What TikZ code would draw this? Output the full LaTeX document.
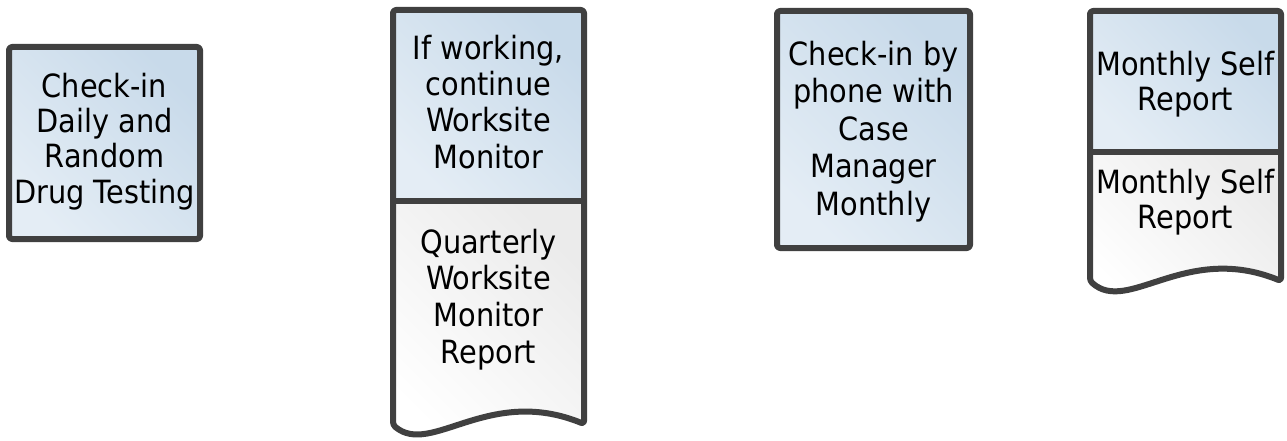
\documentclass[tikz,border=0pt]{standalone}
\usepackage{fontspec}
\setmainfont{DejaVu Sans}[FakeStretch=0.9]
\definecolor{edge}{HTML}{404040}
\definecolor{bluedark}{HTML}{C8DAEA}
\definecolor{bluelight}{HTML}{E4EDF5}
\definecolor{graydark}{HTML}{EBEBEB}
\tikzset{
  outline/.style={draw=edge, line width=6pt, line join=round, rounded corners=3pt},
  bluefill/.style={top color=bluedark, bottom color=bluelight, shading angle=-45},
  grayfill/.style={top color=graydark, bottom color=white, shading angle=-45},
  lbl/.style={anchor=north, inner sep=0pt, align=center, text=black},
}
\newcommand{\fst}{\rule{0pt}{25pt}}
\begin{document}
\begin{tikzpicture}[x=1pt,y=-1pt]
\useasboundingbox (0,0) rectangle (1287,441);
% Box 1
\path[bluefill] (9,47) rectangle (200,239);
\draw[outline] (9,47) rectangle (200,239);
\node[lbl, font={\fontsize{32}{35.3}\selectfont}] (t1) at (104.5,72) {\fst Check-in\\Daily and\\Random\\Drug Testing};
% Box 2
\path[bluefill] (393,10) rectangle (584,201);
\path[grayfill] (393,201) -- (584,201) -- (584,424) .. controls (488.5,385) and (431,457) .. (393,425) -- cycle;
\draw[outline] (393,10) -- (584,10) -- (584,424) .. controls (488.5,385) and (431,457) .. (393,425) -- cycle;
\draw[draw=edge, line width=6pt] (393,201) -- (584,201);
\node[lbl, font={\fontsize{32}{36.3}\selectfont}] (t2a) at (488.5,34) {\fst If working,\\continue\\Worksite\\Monitor};
\node[lbl, font={\fontsize{32}{36.7}\selectfont}] (t2b) at (488.5,228) {\fst Quarterly\\Worksite\\Monitor\\Report};
% Box 3
\path[bluefill] (777,11) rectangle (970,248);
\draw[outline] (777,11) rectangle (970,248);
\node[lbl, font={\fontsize{32}{37.5}\selectfont}] (t3) at (873.5,40) {\fst Check-in by\\phone with\\Case\\Manager\\Monthly};
% Box 4
\path[bluefill] (1090,11) rectangle (1281,152);
\path[grayfill] (1090,152) -- (1281,152) -- (1281,281) .. controls (1185.5,242) and (1128,315) .. (1090,281) -- cycle;
\draw[outline] (1090,11) -- (1281,11) -- (1281,281) .. controls (1185.5,242) and (1128,315) .. (1090,281) -- cycle;
\draw[draw=edge, line width=6pt] (1090,152) -- (1281,152);
\node[lbl, font={\fontsize{32}{35}\selectfont}] (t4a) at (1185.5,50) {\fst Monthly Self\\Report};
\node[lbl, font={\fontsize{32}{35}\selectfont}] (t4b) at (1185.5,168) {\fst Monthly Self\\Report};
\end{tikzpicture}
\end{document}
